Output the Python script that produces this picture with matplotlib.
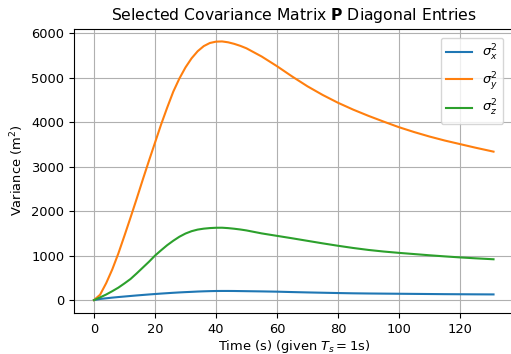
import matplotlib
matplotlib.use("Agg")
import matplotlib.pyplot as plt

time_s = [0, 2, 4, 6, 8, 10, 12, 14, 16, 18, 20, 22, 24, 26, 28, 30, 32, 34, 36, 38, 40, 42, 44, 46, 48, 50,
          55, 60, 65, 70, 75, 80, 85, 90, 95, 100, 105, 110, 115, 120, 125, 131]
var_x = [0, 25, 40, 55, 68, 80, 92, 104, 115, 126, 136, 146, 155, 164, 172, 179, 185, 192, 197, 201, 204, 205, 205, 204, 202, 200,
         195, 189, 180, 172, 165, 158, 152, 148, 145, 142, 139, 136, 133, 131, 129, 127]
var_y = [0, 120, 380, 690, 1050, 1450, 1860, 2280, 2710, 3130, 3540, 3950, 4330, 4690, 4985, 5235, 5440, 5600, 5715, 5785, 5815, 5820, 5800, 5765, 5720, 5665,
         5480, 5263, 5030, 4810, 4615, 4440, 4285, 4145, 4015, 3890, 3780, 3680, 3590, 3510, 3430, 3340]
var_z = [0, 60, 125, 200, 280, 375, 475, 600, 730, 860, 1000, 1120, 1235, 1335, 1425, 1497, 1550, 1586, 1607, 1620, 1627, 1628, 1619, 1605, 1588, 1567,
         1500, 1445, 1390, 1333, 1276, 1222, 1172, 1128, 1092, 1062, 1035, 1008, 983, 960, 940, 918]

s = 0.94
fig = plt.figure(figsize=(5.11, 3.54), dpi=100)
ax = fig.add_axes([74/511, 41/354, 439.5/511, 284.5/354])
ax.plot(time_s, var_x, color="#1f77b4", lw=1.5, label=r"$\sigma_x^2$")
ax.plot(time_s, var_y, color="#ff7f0e", lw=1.5, label=r"$\sigma_y^2$")
ax.plot(time_s, var_z, color="#2ca02c", lw=1.5, label=r"$\sigma_z^2$")
ax.set_xticks([0, 20, 40, 60, 80, 100, 120])
ax.set_yticks([0, 1000, 2000, 3000, 4000, 5000, 6000])
ax.tick_params(labelsize=10*s)
ax.grid(True)
ax.set_title(r"Selected Covariance Matrix $\mathbf{P}$ Diagonal Entries", fontsize=12*s)
ax.set_xlabel(r"Time (s) (given $T_s = 1$s)", fontsize=10*s, labelpad=1.5)
ax.set_ylabel(r"Variance (m$^2$)", fontsize=10*s)
ax.legend(loc="upper right", bbox_to_anchor=(0.992, 0.99), fontsize=10*s)
fig.savefig("out.png", dpi=100)
